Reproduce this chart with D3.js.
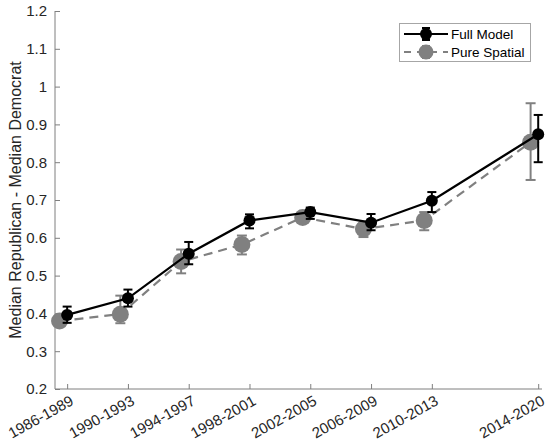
<!DOCTYPE html>
<html>
<head>
<meta charset="utf-8">
<script src="https://cdn.jsdelivr.net/npm/d3@7/dist/d3.min.js"></script>
<style>
html,body{margin:0;padding:0;background:#fff;}
svg{display:block;}
text{font-family:"Liberation Sans",Arial,sans-serif;}
</style>
</head>
<body>
<script>
const categories = ["1986-1989","1990-1993","1994-1997","1998-2001","2002-2005","2006-2009","2010-2013","2014-2020"];
const endYears = [1989,1993,1997,2001,2005,2009,2013,2020];
const fullModel = [0.396,0.440,0.558,0.646,0.668,0.640,0.698,0.874];
const fullLow   = [0.375,0.418,0.530,0.625,0.650,0.620,0.668,0.800];
const fullHigh  = [0.418,0.463,0.589,0.662,0.680,0.663,0.721,0.925];
const pureSpatial = [0.380,0.398,0.537,0.582,0.654,0.623,0.646,0.853];
const pureLow     = [0.368,0.374,0.506,0.556,0.642,0.602,0.620,0.753];
const pureHigh    = [0.394,0.447,0.569,0.606,0.668,0.640,0.668,0.956];
const yTicks = [0.2,0.3,0.4,0.5,0.6,0.7,0.8,0.9,1,1.1,1.2];
const seriesNames = ["Full Model","Pure Spatial"];

const W=547,H=445;
const svg=d3.select("body").append("svg").attr("width",W).attr("height",H);
const x=d3.scaleLinear().domain([1988.2,2020.25]).range([55,542]);
const y=d3.scaleLinear().domain([0.2,1.2]).range([389,11]);
const axisColor="#7f7f7f";

// y axis
const ya=svg.append("g").attr("transform","translate(55,0)")
  .call(d3.axisLeft(y).tickValues(yTicks).tickSize(-5).tickPadding(8).tickFormat(d=>d3.format("")(+d.toFixed(1))));
ya.select(".domain").attr("stroke",axisColor).attr("d","M0,"+y(1.2)+"V"+y(0.2));
ya.selectAll(".tick line").attr("stroke",axisColor);
ya.selectAll(".tick text").attr("fill","#262626").style("font-size","15px");

// x axis
const xa=svg.append("g").attr("transform","translate(0,389)")
  .call(d3.axisBottom(x).tickValues(endYears).tickSize(-5).tickFormat((d,i)=>categories[i]));
xa.select(".domain").attr("stroke",axisColor).attr("d","M55,0H542");
xa.selectAll(".tick line").attr("stroke",axisColor);
xa.selectAll(".tick text").attr("fill","#262626").style("font-size","15px")
  .attr("text-anchor","end").attr("dy",null).attr("y",0)
  .attr("transform","translate(7,15) rotate(-29)");

// y label
svg.append("text").attr("transform","translate(21,200) rotate(-90)")
  .attr("text-anchor","middle").style("font-size","16px").attr("fill","#262626")
  .text("Median Republican - Median Democrat");

const gray="#808080";
const offsetGray=-0.5;

// lines
const lineFull=d3.line().x((d,i)=>x(endYears[i])).y(d=>y(d));
const lineGray=d3.line().x((d,i)=>x(endYears[i]+offsetGray)).y(d=>y(d));

svg.append("path").attr("d",lineGray(pureSpatial)).attr("fill","none")
  .attr("stroke",gray).attr("stroke-width",2.2).attr("stroke-dasharray","9,6");
// gray error bars
const gG=svg.append("g");
pureSpatial.forEach((v,i)=>{
  const cx=x(endYears[i]+offsetGray);
  gG.append("line").attr("x1",cx).attr("x2",cx).attr("y1",y(pureLow[i])).attr("y2",y(pureHigh[i])).attr("stroke",gray).attr("stroke-width",2);
  [pureLow[i],pureHigh[i]].forEach(e=>gG.append("line").attr("x1",cx-5).attr("x2",cx+5).attr("y1",y(e)).attr("y2",y(e)).attr("stroke",gray).attr("stroke-width",2));
  gG.append("circle").attr("cx",cx).attr("cy",y(v)).attr("r",8.5).attr("fill",gray);
});

svg.append("path").attr("d",lineFull(fullModel)).attr("fill","none")
  .attr("stroke","#000").attr("stroke-width",2.2);
const gF=svg.append("g");
fullModel.forEach((v,i)=>{
  const cx=x(endYears[i]);
  gF.append("line").attr("x1",cx).attr("x2",cx).attr("y1",y(fullLow[i])).attr("y2",y(fullHigh[i])).attr("stroke","#000").attr("stroke-width",2);
  [fullLow[i],fullHigh[i]].forEach(e=>gF.append("line").attr("x1",cx-4.5).attr("x2",cx+4.5).attr("y1",y(e)).attr("y2",y(e)).attr("stroke","#000").attr("stroke-width",2));
  gF.append("circle").attr("cx",cx).attr("cy",y(v)).attr("r",6).attr("fill","#000");
});

// legend
const lg=svg.append("g");
lg.append("rect").attr("x",399.5).attr("y",23.5).attr("width",131).attr("height",38)
  .attr("fill","#fff").attr("stroke","#a6a6a6").attr("stroke-width",1);
const items=[{name:seriesNames[0],c:"#000",dash:null,r:6,cy:34},{name:seriesNames[1],c:gray,dash:"7,6",r:7.5,cy:52}];
items.forEach(it=>{
  lg.append("line").attr("x1",404).attr("x2",448).attr("y1",it.cy).attr("y2",it.cy)
    .attr("stroke",it.c).attr("stroke-width",2).attr("stroke-dasharray",it.dash);
  lg.append("line").attr("x1",426).attr("x2",426).attr("y1",it.cy-6).attr("y2",it.cy+6).attr("stroke",it.c).attr("stroke-width",2);
  [it.cy-6,it.cy+6].forEach(yy=>lg.append("line").attr("x1",422).attr("x2",430).attr("y1",yy).attr("y2",yy).attr("stroke",it.c).attr("stroke-width",2));
  lg.append("circle").attr("cx",426).attr("cy",it.cy).attr("r",it.r).attr("fill",it.c);
  lg.append("text").attr("x",451).attr("y",it.cy+5).style("font-size","13.5px").attr("fill","#000").text(it.name);
});
</script>
</body>
</html>
